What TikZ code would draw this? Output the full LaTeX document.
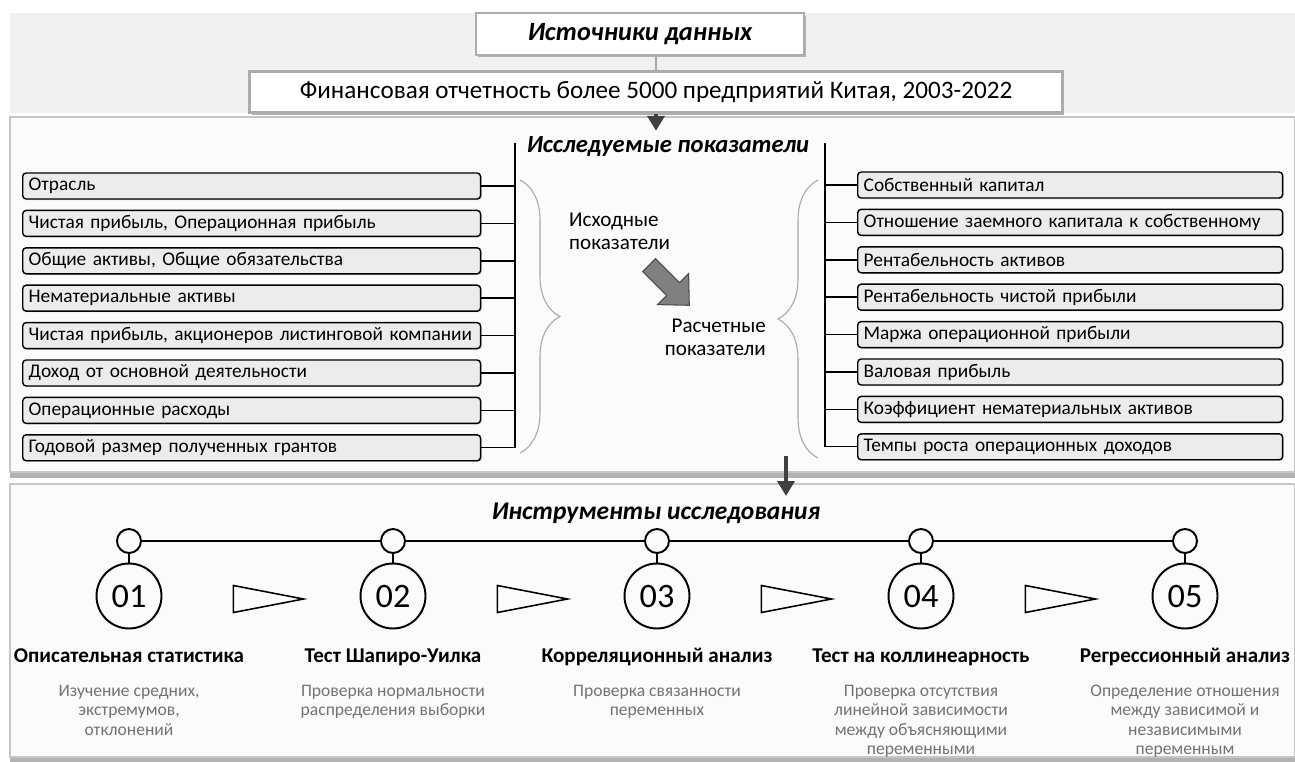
\documentclass[tikz,border=0pt]{standalone}
\usepackage{fontspec}
\setmainfont{Carlito}
\usepackage{tikz}
\usetikzlibrary{arrows.meta,positioning,shadows,decorations.pathreplacing}

\begin{document}
\begin{tikzpicture}[x=0.02cm,y=-0.02cm,
  font=\fontsize{11}{13}\selectfont, node distance=0.2cm,
  band/.style={fill=gray!12},
  panel/.style={fill=gray!3,draw=gray!45,line width=1.2pt,
                drop shadow={shadow xshift=0pt,shadow yshift=-0.12cm,fill=gray!60,opacity=1}},
  srcbox/.style={rectangle,draw=gray!65,line width=1.5pt,fill=white,
                 drop shadow={shadow xshift=0.04cm,shadow yshift=-0.05cm,fill=gray!60,opacity=1}},
  ttl/.style={font=\fontsize{14}{16}\selectfont\bfseries\itshape},
  ibox/.style={rectangle,rounded corners=2pt,draw,line width=0.8pt,fill=gray!15,
               minimum height=0.52cm,inner xsep=0.12cm,inner ysep=0pt,align=left,anchor=west,
               drop shadow={shadow xshift=0.02cm,shadow yshift=-0.02cm,fill=gray!45,opacity=1}},
  lbox/.style={ibox,text width=8.92cm},
  rbox/.style={ibox,text width=8.26cm},
  bus/.style={line width=0.8pt},
  brc/.style={draw=gray!70,line width=0.6pt,decorate,decoration={brace,amplitude=0.8cm}},
  darr/.style={-{Triangle[length=0.3cm,width=0.34cm]},line width=0.09cm,draw=black!75},
  lbl/.style={font=\fontsize{12}{13}\selectfont},
  tick/.style={circle,draw,line width=1.1pt,fill=gray!3,minimum size=0.48cm,inner sep=0pt},
  stage/.style={circle,draw,line width=1.1pt,fill=gray!3,minimum size=1.3cm,inner sep=0pt,
                font=\fontsize{19.5}{21}\selectfont},
  tri/.style={line width=0.9pt},
  head/.style={font=\fontsize{12}{14}\selectfont\bfseries,anchor=base},
  desc/.style={font=\fontsize{10}{11}\selectfont,text=black!55,align=center}]
\path[use as bounding box,clip] (0,0) rectangle (1295,761);

% sources
\fill[band] (10,13) rectangle (1295,113);
\node[srcbox,ttl,minimum width=6.56cm,minimum height=0.84cm,font=\fontsize{15}{17}\selectfont\bfseries\itshape]
  (src) at (640,34) {Источники данных};
\node[srcbox,minimum width=16.26cm,minimum height=0.82cm,font=\fontsize{14.3}{16}\selectfont] (fin) at (656,92)
  {Финансовая отчетность более 5000 предприятий Китая, 2003-2022};
\draw[gray!70,line width=1pt] (fin.north |- src.south) -- (fin.north);

% indicators
\draw[panel] (10,117) rectangle (1295,472);
\node[ttl] (ttl2) at (668,147) {Исследуемые показатели};
\draw[darr] (fin.south) -- (fin.south |- ttl2.north);

\node[lbox] (l1) at (22,186) {Отрасль};
\node[lbox,below=of l1.south west,anchor=north west] (l2) {Чистая прибыль, Операционная прибыль};
\node[lbox,below=of l2.south west,anchor=north west] (l3) {Общие активы, Общие обязательства};
\node[lbox,below=of l3.south west,anchor=north west] (l4) {Нематериальные активы};
\node[lbox,below=of l4.south west,anchor=north west] (l5) {Чистая прибыль, акционеров листинговой компании};
\node[lbox,below=of l5.south west,anchor=north west] (l6) {Доход от основной деятельности};
\node[lbox,below=of l6.south west,anchor=north west] (l7) {Операционные расходы};
\node[lbox,below=of l7.south west,anchor=north west] (l8) {Годовой размер полученных грантов};

\node[rbox] (r1) at (857,185) {Собственный капитал};
\node[rbox,below=of r1.south west,anchor=north west] (r2) {Отношение заемного капитала к собственному};
\node[rbox,below=of r2.south west,anchor=north west] (r3) {Рентабельность активов};
\node[rbox,below=of r3.south west,anchor=north west] (r4) {Рентабельность чистой прибыли};
\node[rbox,below=of r4.south west,anchor=north west] (r5) {Маржа операционной прибыли};
\node[rbox,below=of r5.south west,anchor=north west] (r6) {Валовая прибыль};
\node[rbox,below=of r6.south west,anchor=north west] (r7) {Коэффициент нематериальных активов};
\node[rbox,below=of r7.south west,anchor=north west] (r8) {Темпы роста операционных доходов};

\coordinate (lbus) at (515,143);
\coordinate (rbus) at (825,143);
\draw[bus] (lbus) -- (lbus |- l8.east);
\draw[bus] (rbus) -- (rbus |- r8.west);
\foreach \i in {1,...,8}{\draw[bus] (l\i.east) -- (l\i.east -| lbus); \draw[bus] (r\i.west -| rbus) -- (r\i.west);}

\draw[brc] (520,180) -- (520,453);
\draw[brc] (818,458) -- (818,180);
\node[lbl,anchor=west,align=left] (orig) at (563,231) {Исходные\\показатели};
\node[lbl,anchor=east,align=right] (calc) at (772,337) {Расчетные\\показатели};
\filldraw[fill=gray,draw=gray!60!black,line width=0.6pt] (655.4,258.6) -- (679.4,282.6) -- (688.6,273.4)
  -- (689.3,305.3) -- (657.4,304.6) -- (666.6,295.4) -- (642.6,271.4) -- cycle;

% tools
\draw[panel] (10,484) rectangle (1295,757);
\node[ttl,font=\fontsize{14.5}{17}\selectfont\bfseries\itshape] (ttl3) at (656,513) {Инструменты исследования};
\coordinate (a2s) at (786,456);
\coordinate (a2e) at (786,496);
\draw[darr] (a2s) -- (a2e);

\foreach \x/\n [count=\i] in {129/01,393/02,657/03,921/04,1185/05}{
  \node[tick] (t\i) at (\x,541) {};
  \node[stage] (s\i) at (\x,596) {\n};
  \draw[line width=1.1pt] (t\i) -- (s\i);
}
\foreach \i/\j in {1/2,2/3,3/4,4/5}{
  \draw[line width=1.1pt] (t\i) -- (t\j);
  \draw[tri] ([xshift=1.42cm,yshift=-0.06cm]s\i.east) ++(0,-13.5) -- ++(70,13.5) -- ++(-70,13.5) -- cycle;
}
\foreach \i/\h/\d in {1/{Описательная статистика}/{Изучение средних,\\экстремумов,\\отклонений},
  2/{Тест Шапиро-Уилка}/{Проверка нормальности\\распределения выборки},
  3/{Корреляционный анализ}/{Проверка связанности\\переменных},
  4/{Тест на коллинеарность}/{Проверка отсутствия\\линейной зависимости\\между объясняющими\\переменными},
  5/{Регрессионный анализ}/{Определение отношения\\между зависимой и\\независимыми\\переменным}}{
  \node[head] (h\i) at (s\i |- 0,662) {\h};
  \node[desc,anchor=north] (d\i) at (s\i |- 0,679) {\d};
}
\end{tikzpicture}
\end{document}
